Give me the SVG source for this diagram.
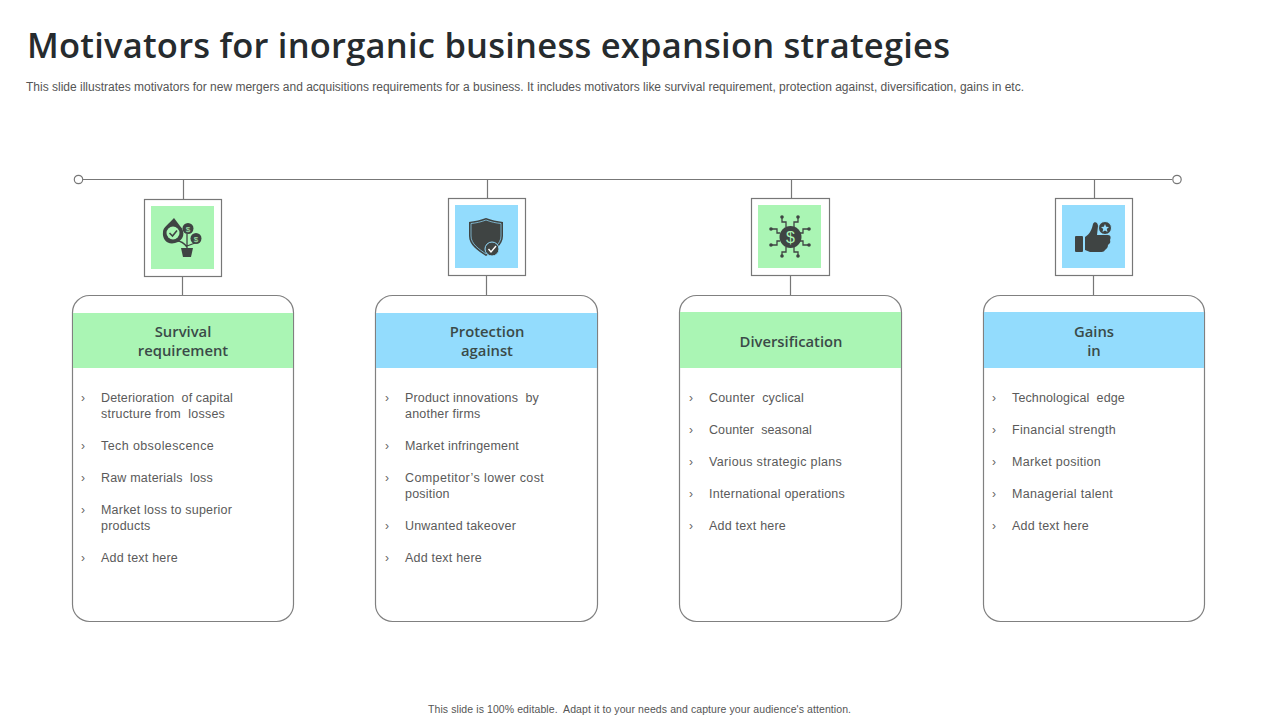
<svg xmlns="http://www.w3.org/2000/svg" width="1280" height="720" viewBox="0 0 1280 720">
<style>
text{font-family:"Liberation Sans",Arial,sans-serif;white-space:pre}
.t{font-family:"Open Sans","Noto Sans",sans-serif;font-size:34.500px;font-weight:600;fill:#262b2e}
.s{font-size:12px;fill:#555}
.f{font-size:10.500px;fill:#555}
.h{font-family:"Open Sans","Noto Sans",sans-serif;font-size:14.800px;font-weight:600;fill:#3a4a48;text-anchor:middle}
.b{font-size:12.500px;fill:#5a5a5a;letter-spacing:.2px}
.c{font-size:12px;fill:#666}
.ln{stroke:#777;stroke-width:1.200;fill:none}
.card{fill:#fff;stroke:#808080;stroke-width:1.200}
.box{fill:#fff;stroke:#777;stroke-width:1.200}
.g{fill:#aaf5b4}
.u{fill:#93dcfd}
.i{fill:#3f4443}
.ic{fill:none;stroke:#3f4443;stroke-width:1.300}
.w{fill:none;stroke:#fff;stroke-width:1.400}
</style>
<rect width="1280" height="720" fill="#fff"/>
<text class="t" x="27" y="58" textLength="923" lengthAdjust="spacing">Motivators for inorganic business expansion strategies</text>
<text class="s" x="26" y="91" textLength="998" lengthAdjust="spacing">This slide illustrates motivators for new mergers and acquisitions requirements for a business. It includes motivators like survival requirement, protection against, diversification, gains in etc.</text>
<g id="connectors">
<path class="ln" d="M83 179.500H1172M183.500 180V199M487.500 180V199M791.500 180V199M1094.500 180V198M182.500 276V296M486.500 276V296M790.500 276V296M1093.500 276V296"/>
<circle class="ln" cx="78.500" cy="179.500" r="4.200"/>
<circle class="ln" cx="1177" cy="179.500" r="4.200"/>
</g>
<g id="card-survival">
<rect class="card" x="72.500" y="295.500" width="221" height="326" rx="17"/>
<rect class="g" x="73" y="313" width="220" height="55"/>
<text class="h" x="183" y="337">Survival</text><text class="h" x="183" y="356">requirement</text>
<g class="b"><text x="101" y="402" textLength="132">Deterioration  of capital</text><text x="101" y="418" textLength="124">structure from  losses</text><text x="101" y="450" textLength="113">Tech obsolescence</text><text x="101" y="482" textLength="112">Raw materials  loss</text><text x="101" y="514">Market loss to superior</text><text x="101" y="530">products</text><text x="101" y="562">Add text here</text></g>
<g class="c"><text x="81" y="402">›</text><text x="81" y="450">›</text><text x="81" y="482">›</text><text x="81" y="514">›</text><text x="81" y="562">›</text></g>
</g>
<g id="card-protection">
<rect class="card" x="375.500" y="295.500" width="222" height="326" rx="17"/>
<rect class="u" x="376" y="313" width="221" height="55"/>
<text class="h" x="487" y="337">Protection</text><text class="h" x="487" y="356">against</text>
<g class="b"><text x="405" y="402" textLength="134">Product innovations  by</text><text x="405" y="418">another firms</text><text x="405" y="450" textLength="114">Market infringement</text><text x="405" y="482" textLength="139">Competitor’s lower cost</text><text x="405" y="498">position</text><text x="405" y="530" textLength="111">Unwanted takeover</text><text x="405" y="562">Add text here</text></g>
<g class="c"><text x="385" y="402">›</text><text x="385" y="450">›</text><text x="385" y="482">›</text><text x="385" y="530">›</text><text x="385" y="562">›</text></g>
</g>
<g id="card-diversification">
<rect class="card" x="679.500" y="295.500" width="222" height="326" rx="17"/>
<rect class="g" x="680" y="312" width="221" height="56"/>
<text class="h" x="791" y="347">Diversification</text>
<g class="b"><text x="709" y="402" textLength="95">Counter  cyclical</text><text x="709" y="434" textLength="103">Counter  seasonal</text><text x="709" y="466" textLength="133">Various strategic plans</text><text x="709" y="498" textLength="136">International operations</text><text x="709" y="530">Add text here</text></g>
<g class="c"><text x="689" y="402">›</text><text x="689" y="434">›</text><text x="689" y="466">›</text><text x="689" y="498">›</text><text x="689" y="530">›</text></g>
</g>
<g id="card-gains">
<rect class="card" x="983.500" y="295.500" width="221" height="326" rx="17"/>
<rect class="u" x="984" y="312" width="220" height="56"/>
<text class="h" x="1094" y="337">Gains</text><text class="h" x="1094" y="356">in</text>
<g class="b"><text x="1012" y="402" textLength="113">Technological  edge</text><text x="1012" y="434" textLength="104">Financial strength</text><text x="1012" y="466" textLength="89">Market position</text><text x="1012" y="498" textLength="101">Managerial talent</text><text x="1012" y="530">Add text here</text></g>
<g class="c"><text x="992" y="402">›</text><text x="992" y="434">›</text><text x="992" y="466">›</text><text x="992" y="498">›</text><text x="992" y="530">›</text></g>
</g>
<g id="icon-survival">
<rect class="box" x="144.500" y="199.500" width="77" height="77"/>
<rect class="g" x="151" y="206" width="63" height="63"/>
<path class="i" d="M174 218L180 226C186 232 184 241 175 243C167 245 162 239 163 232C163 227 169 224 174 218Z"/>
<circle cx="173" cy="233" r="6.500" fill="#aaf5b4"/>
<path d="M169.500 233L172.500 236L177 230.500" fill="none" stroke="#3f4443" stroke-width="1.600"/>
<circle class="i" cx="188" cy="228.500" r="5.500"/><circle class="i" cx="196" cy="238.500" r="5.500"/>
<path class="ic" d="M187 234V250M187 246L195 243M187 247C184 243 181 241 177 241"/>
<path class="i" d="M181 248H193L191 257H183Z"/>
<text x="188" y="231.500" font-size="8" fill="#aaf5b4" text-anchor="middle">$</text><text x="196" y="241.500" font-size="8" fill="#aaf5b4" text-anchor="middle">$</text>
</g>
<g id="icon-protection">
<rect class="box" x="448.500" y="198.500" width="77" height="77"/>
<rect class="u" x="455" y="205" width="63" height="63"/>
<path class="i" d="M486 218C491 220 497 221 503 222V236C503 245 494 251 486 256C478 251 469 245 469 236V222C475 221 481 220 486 218Z"/>
<path d="M486 220C491 222 496 223 501 223.500V236C501 244 493 249 486 254C479 249 471 244 471 236V223.500C476 223 481 222 486 220Z" fill="none" stroke="#93dcfd" stroke-width=".7"/>
<circle cx="492" cy="249" r="7" fill="#3f4443" stroke="#93dcfd" stroke-width="1"/>
<path class="w" d="M488.500 249L491 252L496 246"/>
</g>
<g id="icon-diversification">
<rect class="box" x="751.500" y="198.500" width="78" height="77"/>
<rect class="g" x="758" y="205" width="63" height="63"/>
<circle class="i" cx="790.500" cy="237" r="11"/>
<text x="790.500" y="242.500" font-size="16" fill="#aaf5b4" text-anchor="middle">$</text>
<path class="ic" d="M782 218V222H786V227M798 218V222H794V227M771 229H777V233H780M809 229H803V233H800M771 245H777V241H780M809 245H803V241H800M782 256V252H786V247M798 256V252H794V247" stroke-width="1"/>
<g class="i"><circle cx="782" cy="217" r="1.800"/><circle cx="798" cy="217" r="1.800"/><circle cx="771" cy="229" r="1.800"/><circle cx="809" cy="229" r="1.800"/><circle cx="771" cy="245" r="1.800"/><circle cx="809" cy="245" r="1.800"/><circle cx="782" cy="256" r="1.800"/><circle cx="798" cy="256" r="1.800"/></g>
</g>
<g id="icon-gains">
<rect class="box" x="1055.500" y="198.500" width="77" height="77"/>
<rect class="u" x="1062" y="205" width="63" height="63"/>
<rect class="i" x="1075" y="236" width="8" height="16" rx="1"/>
<path class="i" d="M1085 237C1090 234 1092 229 1093 224C1094 221 1098 222 1098 226L1097 235H1108C1111 235 1111 238 1110 240C1111 243 1109 244 1108 245C1108 248 1106 249 1105 250C1104 252 1102 252 1100 252H1090L1085 250Z"/>
<circle class="i" cx="1105" cy="228" r="6.500" stroke="#93dcfd" stroke-width="1"/>
<path d="M1105 224L1106.200 226.800L1109 227L1106.800 229L1107.500 232L1105 230.400L1102.500 232L1103.200 229L1101 227L1103.800 226.800Z" fill="#93dcfd"/>
</g>
<text class="f" x="428" y="713" textLength="423" lengthAdjust="spacing">This slide is 100% editable.  Adapt it to your needs and capture your audience's attention.</text>
</svg>
